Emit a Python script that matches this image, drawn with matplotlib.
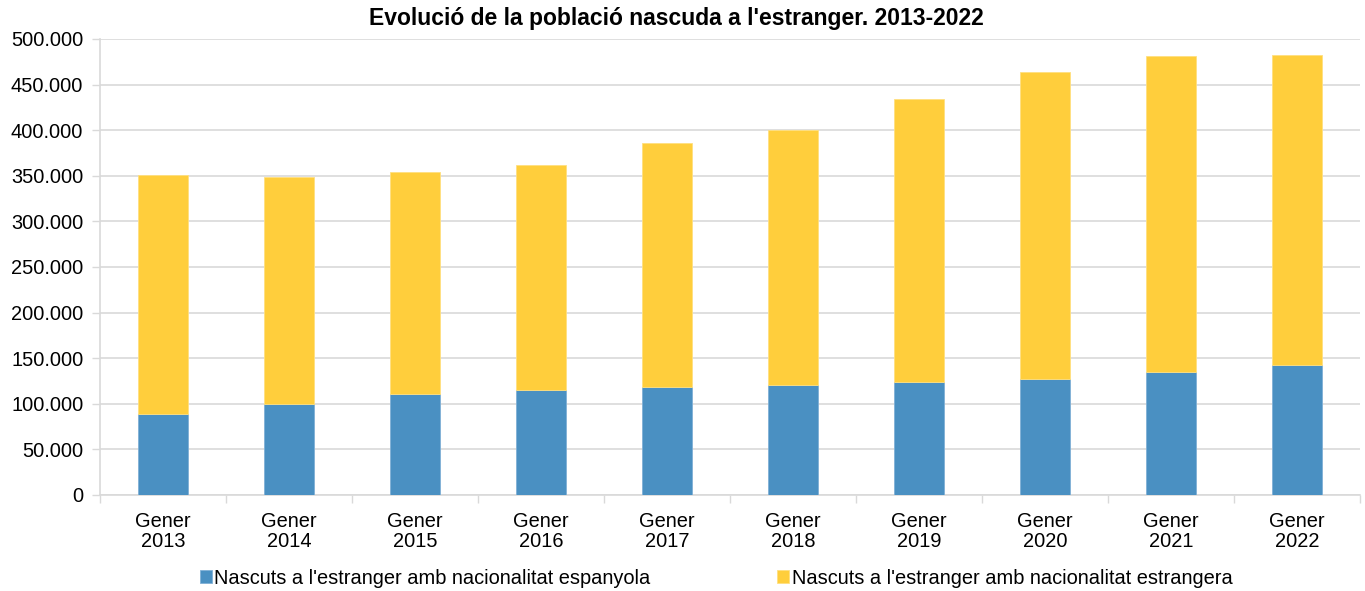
import matplotlib
matplotlib.use("Agg")
import matplotlib.pyplot as plt
from matplotlib.ticker import FuncFormatter, FixedLocator
import numpy as np

plt.rcParams['font.family'] = ['Liberation Sans', 'DejaVu Sans']

years = ["2013", "2014", "2015", "2016", "2017", "2018", "2019", "2020", "2021", "2022"]
categories = [f"Gener\n{y}" for y in years]
espanyola = [89000, 100000, 111000, 115400, 118600, 120800, 124100, 127400, 134400, 142800]
total = [350800, 348200, 354100, 361900, 385500, 400400, 433800, 464000, 481200, 482300]
estrangera = [t - e for t, e in zip(total, espanyola)]

series_labels = ["Nascuts a l'estranger amb nacionalitat espanyola",
                 "Nascuts a l'estranger amb nacionalitat estrangera"]
title = "Evolució de la població nascuda a l'estranger. 2013-2022"

blue = "#4A90C2"
yellow = "#FFCE3C"
grid_col = "#D9D9D9"
fs = 14.4

fig = plt.figure(figsize=(13.65, 5.91), dpi=100)
ax = fig.add_axes([100 / 1365, 1 - 495 / 591, 1260 / 1365, 456 / 591])

x = np.arange(len(categories))
w = 0.40
b1 = ax.bar(x, espanyola, width=w, color=blue, edgecolor="#7FB0D6", linewidth=0.6,
            label=series_labels[0], zorder=3)
b2 = ax.bar(x, estrangera, width=w, bottom=espanyola, color=yellow, edgecolor="#FFE080",
            linewidth=0.6, label=series_labels[1], zorder=3)

ax.set_xlim(-0.5, len(categories) - 0.5)
ax.set_ylim(0, 500000)
ax.yaxis.set_major_locator(FixedLocator(np.arange(0, 500001, 50000)))
ax.yaxis.set_major_formatter(FuncFormatter(lambda v, p: f"{int(v):,}".replace(",", ".")))
ax.grid(axis="y", color=grid_col, linewidth=1.2, zorder=0)
ax.set_axisbelow(True)

ax.set_xticks(x)
ax.set_xticklabels(categories, fontsize=fs, linespacing=1.1)
ax.set_xticks(np.arange(-0.5, len(categories), 1.0), minor=True)
ax.tick_params(axis="x", which="major", length=0, pad=12)
ax.tick_params(axis="x", which="minor", length=6, color=grid_col, width=1.0)
ax.tick_params(axis="y", which="major", length=6, color=grid_col, width=1.0,
               labelsize=fs, pad=6)

for side in ("top", "right"):
    ax.spines[side].set_visible(False)
for side in ("left", "bottom"):
    ax.spines[side].set_color(grid_col)
    ax.spines[side].set_linewidth(1.2)

fig.text(676 / 1365, 1 - 18 / 591, title, ha="center", va="center",
         fontsize=16.5, fontweight="bold")

fig.legend(handles=[b1, b2], labels=series_labels, loc="center",
           bbox_to_anchor=(716 / 1365, 1 - 578 / 591), ncol=2, frameon=False,
           fontsize=fs, handlelength=0.6, handleheight=0.6, handletextpad=0.15,
           columnspacing=6.3, borderpad=0)

fig.savefig("out.png", dpi=100)
